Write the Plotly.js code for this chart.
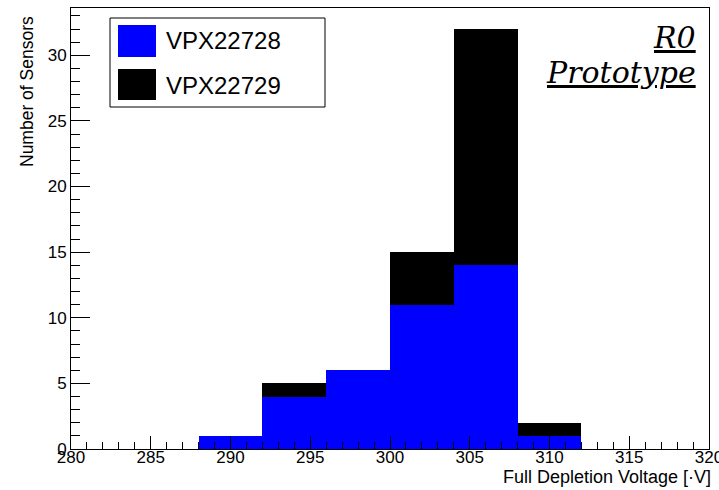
<!DOCTYPE html>
<html>
<head>
<meta charset="utf-8">
<script src="https://cdn.plot.ly/plotly-3.0.1.min.js"></script>
<style>html,body{margin:0;padding:0;background:#fff;}#chart{width:719px;height:490px;}</style>
</head>
<body>
<div id="chart"></div>
<script>
// ---- data ----
const binCenters = [290, 294, 298, 302, 306, 310];   // bin width 4 V
const countsVPX22728 = [1, 4, 6, 11, 14, 1];
const countsVPX22729 = [0, 1, 0, 4, 18, 1];
const seriesNames = ['VPX22728', 'VPX22729'];
const seriesColors = ['#0000ff', '#000000'];
const xTickVals = [280, 285, 290, 295, 300, 305, 310, 315, 320];
const yTickVals = [0, 5, 10, 15, 20, 25, 30];

// ---- layout geometry ----
const W = 719, H = 490;
const M = {l: 71, r: 10, t: 8, b: 41};
const PW = W - M.l - M.r, PH = H - M.t - M.b;
const px = x => (x - M.l) / PW;          // pixel -> paper x
const py = y => (H - M.b - y) / PH;      // pixel -> paper y

const traces = [
  {type: 'bar', x: binCenters, y: countsVPX22728, width: 4, name: seriesNames[0],
   marker: {color: seriesColors[0], line: {width: 0}}, showlegend: false, hoverinfo: 'skip'},
  {type: 'bar', x: binCenters, y: countsVPX22729, width: 4, name: seriesNames[1],
   marker: {color: seriesColors[1], line: {width: 0}}, showlegend: false, hoverinfo: 'skip'}
];

const axisFont = {family: 'Liberation Sans, Arial, sans-serif', size: 17, color: '#000'};

const shapes = [
  // legend box
  {type: 'rect', xref: 'paper', yref: 'paper', x0: px(110), x1: px(325), y0: py(18), y1: py(107),
   line: {color: '#000', width: 1}, fillcolor: '#fff', layer: 'above'},
  {type: 'rect', xref: 'paper', yref: 'paper', x0: px(118), x1: px(156), y0: py(25), y1: py(57),
   line: {width: 0}, fillcolor: seriesColors[0], layer: 'above'},
  {type: 'rect', xref: 'paper', yref: 'paper', x0: px(118), x1: px(156), y0: py(69), y1: py(100),
   line: {width: 0}, fillcolor: seriesColors[1], layer: 'above'}
];

const legFont = {family: 'Liberation Sans, Arial, sans-serif', size: 24, color: '#000'};
const titleFont = {family: 'DejaVu Serif, serif', size: 30, color: '#000', style: 'italic'};

const annotations = [
  {xref: 'paper', yref: 'paper', x: px(164), y: py(41), xanchor: 'left', yanchor: 'middle',
   text: seriesNames[0], showarrow: false, font: legFont},
  {xref: 'paper', yref: 'paper', x: px(164), y: py(85), xanchor: 'left', yanchor: 'middle',
   text: seriesNames[1], showarrow: false, font: legFont},
  {xref: 'paper', yref: 'paper', x: px(698), y: py(37), xanchor: 'right', yanchor: 'middle',
   text: '<u>R0</u>', showarrow: false, font: titleFont},
  {xref: 'paper', yref: 'paper', x: px(698), y: py(72), xanchor: 'right', yanchor: 'middle',
   text: '<u>Prototype</u>', showarrow: false, font: titleFont},
  // axis titles (ROOT style: right/top aligned)
  {xref: 'paper', yref: 'paper', x: px(713), y: py(477), xanchor: 'right', yanchor: 'middle',
   text: 'Full Depletion Voltage [·V]', showarrow: false,
   font: {family: 'Liberation Sans, Arial, sans-serif', size: 18, color: '#000'}},
  {xref: 'paper', yref: 'paper', x: px(27), y: py(92), xanchor: 'center', yanchor: 'middle',
   textangle: -90, text: 'Number of Sensors', showarrow: false,
   font: {family: 'Liberation Sans, Arial, sans-serif', size: 17.5, color: '#000'}}
];

const layout = {
  width: W, height: H,
  margin: M,
  paper_bgcolor: '#fff', plot_bgcolor: '#fff',
  barmode: 'stack', bargap: 0,
  showlegend: false,
  xaxis: {
    range: [280, 320], tickmode: 'array', tickvals: xTickVals, ticktext: xTickVals.map(String),
    ticks: 'inside', ticklen: 13, tickwidth: 1, tickcolor: '#000',
    minor: {dtick: 1, tick0: 280, ticks: 'inside', ticklen: 7, tickwidth: 1, tickcolor: '#000', showgrid: false},
    showline: true, linecolor: '#000', linewidth: 1, mirror: true,
    showgrid: false, zeroline: false, tickfont: axisFont, automargin: false, fixedrange: true,
    ticklabeloverflow: 'allow', ticklabelstandoff: -7
  },
  yaxis: {
    range: [0, 33.6], tickmode: 'array', tickvals: yTickVals, ticktext: yTickVals.map(String),
    ticks: 'inside', ticklen: 19, tickwidth: 1, tickcolor: '#000',
    minor: {dtick: 1, tick0: 0, ticks: 'inside', ticklen: 9, tickwidth: 1, tickcolor: '#000', showgrid: false},
    showline: true, linecolor: '#000', linewidth: 1, mirror: true,
    showgrid: false, zeroline: false, tickfont: axisFont, automargin: false, fixedrange: true,
    ticklabeloverflow: 'allow'
  },
  shapes: shapes,
  annotations: annotations
};

Plotly.newPlot('chart', traces, layout, {displayModeBar: false, staticPlot: true});
</script>
</body>
</html>
